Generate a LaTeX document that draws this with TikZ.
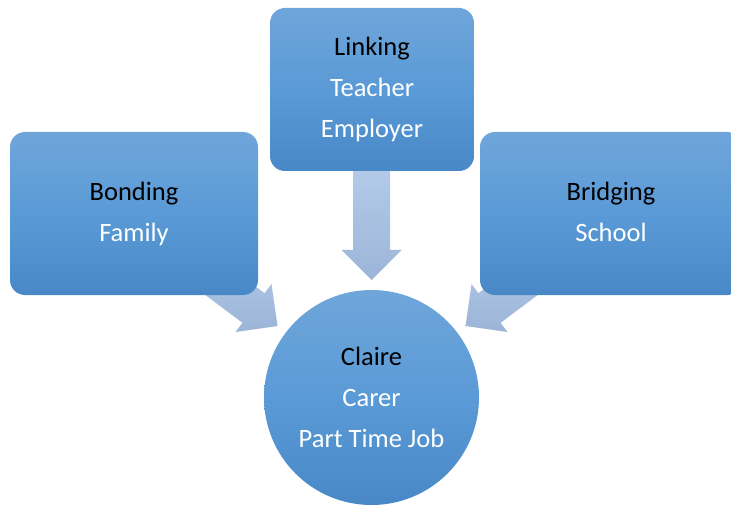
\documentclass[tikz,border=0pt]{standalone}
\usepackage{fontspec}
\setmainfont{Carlito}
\usetikzlibrary{calc}
\pgfdeclarelayer{background}
\pgfsetlayers{background,main}
\definecolor{boxtop}{HTML}{6FA6DA}
\definecolor{boxmid}{HTML}{5A9AD6}
\definecolor{boxbot}{HTML}{4888C7}
\definecolor{arrtop}{HTML}{B7CFEC}
\definecolor{arrbot}{HTML}{9CB4D7}
\newcommand\blockarrow[2]{%
  \begin{scope}[shift={(#1)}, rotate=#2]
    \shade[top color=arrtop, bottom color=arrbot]
      (0,0) -- (-30,30) -- (-30,18.5) -- (-130,18.5) -- (-130,-18.5) -- (-30,-18.5) -- (-30,-30) -- cycle;
  \end{scope}}
\begin{document}
\begin{tikzpicture}[x=1pt, y=-1pt,
  shape base/.style={draw=none, align=center, inner sep=0pt, text=white,
    top color=boxtop, bottom color=boxbot, middle color=boxmid,
    font=\fontsize{26.5}{41}\selectfont},
  box/.style={shape base, rectangle, rounded corners=15pt, minimum height=163pt},
  hub/.style={shape base, circle, minimum size=215pt}]
\useasboundingbox (0,0) rectangle (731,505);
\clip (0,0) rectangle (731,505);
\node[box, minimum width=248pt] (bonding) at (134,213.5) {\textcolor{black}{Bonding}\\Family};
\node[box, minimum width=204pt] (linking) at (372,89.5) {\textcolor{black}{Linking}\\Teacher\\Employer};
\node[box, minimum width=262pt] (bridging) at (611,213.5) {\textcolor{black}{Bridging}\\School\vphantom{y}};
\node[hub] (claire) at (371.5,397.5) {\textcolor{black}{Claire}\\Carer\\Part Time Job};
\coordinate (tipM) at ($(claire.center)+(0,-117.5)$);
\coordinate (tipL) at ($(claire.center)+(-94,-71.5)$);
\coordinate (tipR) at ($(claire.center)+(94,-71.5)$);
\begin{pgfonlayer}{background}
  \blockarrow{tipM}{-90}
  \blockarrow{tipL}{-36.87}
  \blockarrow{tipR}{-143.13}
\end{pgfonlayer}
\end{tikzpicture}
\end{document}
